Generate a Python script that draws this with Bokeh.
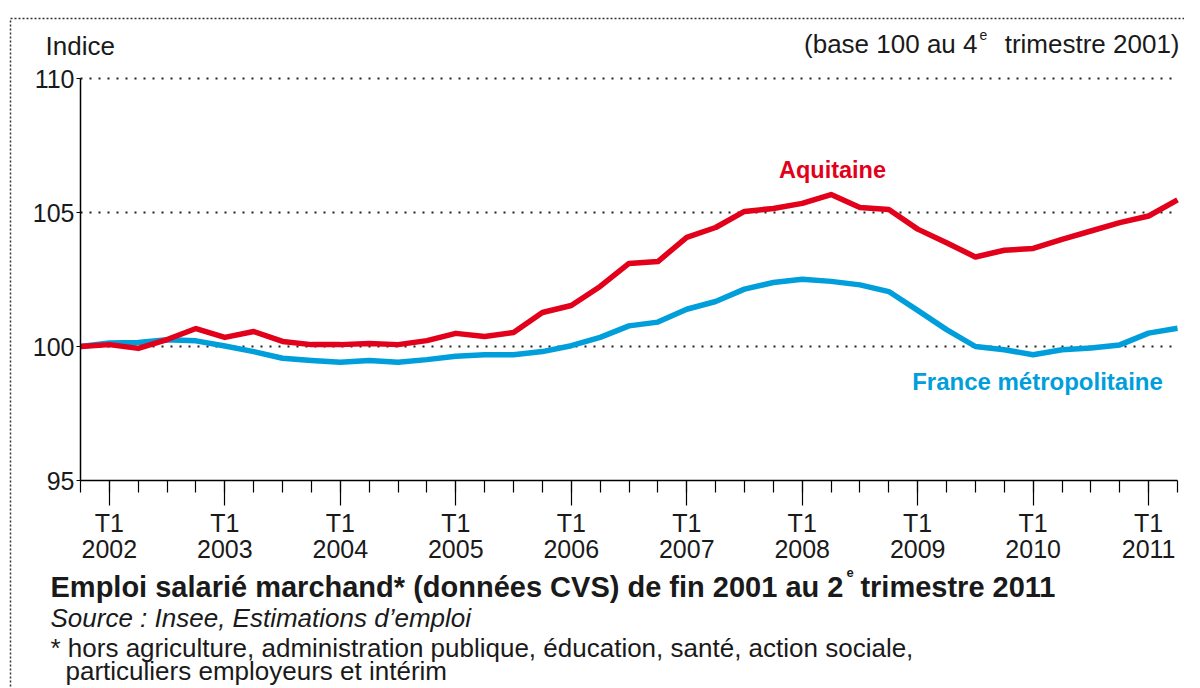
from bokeh.plotting import figure
from bokeh.models import Range1d, FixedTicker, Label, LinearAxis, Grid, BoxAnnotation
from bokeh.embed import file_html
from bokeh.resources import INLINE

# ---- data (quarter index 0 = Q4 2001 ... 38 = Q2 2011) ----
quarters = list(range(39))
aquitaine = [100.0, 100.07, 99.93, 100.26, 100.67, 100.34, 100.56, 100.19, 100.07, 100.07,
             100.11, 100.07, 100.22, 100.49, 100.37, 100.52, 101.27, 101.53, 102.24, 103.10,
             103.17, 104.07, 104.44, 105.04, 105.15, 105.34, 105.67, 105.19, 105.11, 104.38,
             103.87, 103.34, 103.59, 103.66, 104.00, 104.31, 104.62, 104.87, 105.47]
france = [100.0, 100.13, 100.15, 100.25, 100.21, 100.02, 99.81, 99.56, 99.48, 99.41,
          99.48, 99.41, 99.51, 99.64, 99.69, 99.69, 99.81, 100.03, 100.34, 100.77,
          100.91, 101.39, 101.68, 102.14, 102.39, 102.51, 102.43, 102.30, 102.05, 101.35,
          100.63, 100.0, 99.88, 99.69, 99.88, 99.94, 100.06, 100.50, 100.68]
t1_positions = [1, 5, 9, 13, 17, 21, 25, 29, 33, 37]
years = ["2002", "2003", "2004", "2005", "2006", "2007", "2008", "2009", "2010", "2011"]
y_ticks = [95, 100, 105, 110]
grid_levels = [100, 105, 110]
x_min, x_max = 0, 38
y_min, y_max = 95, 110

RED = "#E2001A"
BLUE = "#009EDB"
FONT = "Liberation Sans"
TXT = "#1a1a1a"
DOT = "#333333"

# ---- canvas layout (pixels) ----
W, H = 1184, 688
PLOT_L, PLOT_R, PLOT_T, PLOT_B = 80, 1177, 78, 480   # chart area inside the canvas

px_per_x = (PLOT_R - PLOT_L) / (x_max - x_min)
px_per_y = (PLOT_B - PLOT_T) / (y_max - y_min)
xr = Range1d(x_min - PLOT_L / px_per_x, x_max + (W - PLOT_R) / px_per_x)
yr = Range1d(y_min - (H - PLOT_B) / px_per_y, y_max + PLOT_T / px_per_y)

p = figure(width=W, height=H, x_range=xr, y_range=yr, output_backend="svg",
           toolbar_location=None, min_border=0, title=None,
           x_axis_location=None, y_axis_location=None)
p.outline_line_color = None
p.grid.visible = False
p.background_fill_color = "white"

# dotted horizontal grid limited to the chart area
p.add_layout(Grid(dimension=1, ticker=FixedTicker(ticks=grid_levels), cross_bounds=(x_min, x_max),
                  grid_line_color="#222222", grid_line_dash="2 7", grid_line_width=1.8))

# y axis
ya = LinearAxis(fixed_location=x_min, bounds=(y_min, y_max), ticker=FixedTicker(ticks=y_ticks))
ya.axis_line_color = "black"
ya.axis_line_width = 1.5
ya.major_tick_out = 4
ya.major_tick_in = 0
ya.minor_tick_out = 0
ya.major_tick_line_color = "black"
ya.major_label_standoff = 2
ya.major_label_text_font = FONT
ya.major_label_text_font_size = "25px"
ya.major_label_text_color = TXT
p.add_layout(ya, "left")

# x axis
xa = LinearAxis(fixed_location=y_min, bounds=(x_min, x_max),
                ticker=FixedTicker(ticks=t1_positions, minor_ticks=quarters))
xa.axis_line_color = "black"
xa.axis_line_width = 1.5
xa.major_tick_out = 25
xa.major_tick_in = 0
xa.minor_tick_out = 12
xa.minor_tick_in = 0
xa.major_tick_line_color = "black"
xa.minor_tick_line_color = "black"
xa.major_tick_line_width = 1.2
xa.minor_tick_line_width = 1.2
xa.major_label_overrides = {k: "T1\n" + y for k, y in zip(t1_positions, years)}
xa.major_label_standoff = 3
xa.major_label_text_font = FONT
xa.major_label_text_font_size = "25px"
xa.major_label_text_color = TXT
xa.major_label_text_line_height = 0.95
p.add_layout(xa, "below")

# series
p.line(quarters, france, line_color=BLUE, line_width=5.5, line_join="round")
p.line(quarters, aquitaine, line_color=RED, line_width=5.5, line_join="round")

# dotted outer frame (top and left edges visible)
p.add_layout(BoxAnnotation(left=10, right=W + 50, top=H - 18, bottom=-50,
                           left_units="screen", right_units="screen",
                           top_units="screen", bottom_units="screen",
                           fill_alpha=0, line_alpha=1.0, line_color=DOT,
                           line_dash="2 2", line_width=1.5))


def lab(text, x, y_from_top, size, align="left", style="normal", color=TXT, baseline="alphabetic"):
    p.add_layout(Label(x=x, y=H - y_from_top, x_units="screen", y_units="screen", text=text,
                       text_font=FONT, text_font_size=size, text_font_style=style,
                       text_color=color, text_align=align, text_baseline=baseline))


# header
lab("Indice", 45, 45, "26px", baseline="middle")
lab("(base 100 au 4", 977, 43, "26px", align="right", baseline="middle")
lab("e", 979, 34, "14px", baseline="middle")
lab("trimestre 2001)", 1179, 43, "26px", align="right", baseline="middle")

# series labels
lab("Aquitaine", 832, 169, "23.5px", align="center", style="bold", color=RED, baseline="middle")
lab("France métropolitaine", 1037, 381, "24px", align="center", style="bold", color=BLUE,
    baseline="middle")

# title and notes
lab("Emploi salarié marchand* (données CVS) de fin 2001 au 2", 50, 586, "29px", style="bold")
lab("e", 846, 572, "13px", style="bold")
lab("trimestre 2011", 1055, 586, "29px", align="right", style="bold")
lab("Source : Insee, Estimations d\u2019emploi", 50, 617, "26px", style="italic")
lab("* hors agriculture, administration publique, éducation, santé, action sociale,", 50, 647, "26px")
lab("particuliers employeurs et intérim", 65, 670, "26px")

open("out.html", "w").write(file_html(p, INLINE))
